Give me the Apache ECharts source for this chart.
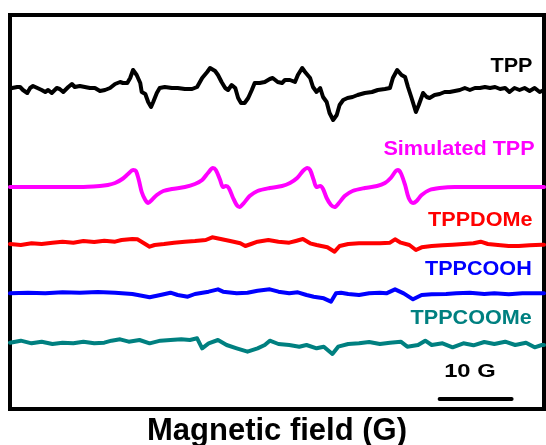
<!DOCTYPE html>
<html>
<head>
<meta charset="utf-8">
<script src="https://cdn.jsdelivr.net/npm/echarts@6/dist/echarts.min.js"></script>
<style>
  html, body { margin: 0; padding: 0; background: #fff; }
  #epr { width: 546px; height: 445px; }
</style>
</head>
<body>
<div id="epr"></div>
<script>
// field axis in G (relative), signal in arbitrary units (positive = up)
const tppField = [0,0.3,1.0,1.4,1.8,2.4,2.8,3.2,3.8,4.4,4.9,5.3,5.8,6.5,6.9,7.4,8.1,8.6,9.0,9.7,
  10.4,11.1,11.8,12.5,13.2,13.9,14.6,15.3,15.7,16.3,16.7,17.1,17.6,18.1,18.3,18.8,19.2,19.6,19.9,20.4,
  20.8,21.5,22.5,23.3,24.3,25.3,26.0,26.7,27.4,27.8,28.5,28.9,29.4,29.9,30.3,30.8,31.3,31.7,32.1,32.6,
  33.1,33.6,34.0,34.7,35.4,36.1,36.5,37.2,37.8,38.2,38.9,39.6,40.0,40.6,41.0,41.7,42.1,42.6,43.1,43.5,
  44.0,44.4,44.9,45.4,45.8,46.3,46.9,47.6,48.3,49.3,50.3,51.1,52.1,52.8,53.2,53.8,54.4,54.9,55.3,55.8,
  56.4,56.8,57.4,57.9,58.3,59.0,59.7,60.4,61.1,61.8,62.5,63.2,63.9,64.6,65.3,66.0,66.7,67.4,68.1,68.8,
  69.4,70.1,70.8,71.5,72.2,72.9,73.6,74.2];
const tppSignal = [0,0.25,0.5,0.5,-0.25,-1,0.25,0.75,0.25,-0.25,-0.75,-0.25,-1,0.25,0,-0.75,0.5,1.25,0.5,0.75,
  0.5,0.25,0.25,-0.5,-0.25,0.25,1.25,1.75,1.5,1.5,2.75,4.75,3.5,1.5,-0.75,-1.25,-3.25,-4.5,-3.25,-1,
  0.25,0.5,0.25,0.25,0,0,0.5,2.75,4.25,5.25,4.5,3.5,1.75,0.25,-0.25,1,0.25,-2.25,-3.5,-3.5,
  -2.25,-0.25,1.5,1.5,1.75,2.5,2.75,1.75,1.5,2.25,2.25,1.75,3.5,5.25,4.25,2.75,0.5,-0.75,0.25,-2,
  -3.25,-6,-7.75,-6.5,-4,-2.75,-2.25,-2,-1.5,-1,-0.75,-0.25,0,0.25,2.75,4.75,3.5,3,0.5,-2.25,
  -5.75,-4,-1,-2,-2.25,-1.5,-1.25,-0.75,-0.75,-0.5,-0.25,0.25,-0.25,0.25,0.25,0.5,0.25,0.5,0,0.25,
  -0.75,0.25,-0.25,0.25,-0.5,0.25,-0.75,-0.25];

const simField = [0,9.7,12.5,13.6,14.6,15.6,16.4,17.1,17.5,17.9,18.3,18.8,19.2,19.7,20.4,21.3,22.5,24.3,25.7,26.7,
  27.5,28.2,28.6,29.2,29.6,30.0,30.4,31.0,31.5,31.9,32.5,33.3,34.4,36.1,37.8,38.9,39.9,40.7,41.3,41.7,
  42.2,42.6,43.1,43.5,44.0,44.6,45.1,45.7,46.5,47.6,49.3,51.0,52.1,52.9,53.6,53.9,54.3,54.9,55.4,56.0,
  56.5,57.2,58.3,59.7,61.8,74.2];
const simSignal = [0,0,0.25,0.5,1,2,3.25,4.25,4,1.75,-1.25,-3.25,-4,-3.25,-2,-1,-0.5,0,0.75,1.75,
  3.5,4.75,4.25,1.75,0,0.25,-0.25,-2.75,-4.5,-5,-4,-2.25,-1,-0.25,0.25,1,2.25,4,4.75,4.25,
  1.75,0,0.25,-0.5,-2.75,-4.5,-5,-4,-2.25,-1,-0.25,0.25,1,2.25,4,4.25,3.5,0.5,-2.75,-4,
  -3.5,-2,-0.75,-0.25,0,0];

const domeField = [0,1.5,3.0,4.4,5.9,7.3,8.8,10.2,11.7,13.1,14.6,15.5,17.0,17.7,18.5,19.4,20.1,21.4,22.8,24.3,
  25.7,27.2,28.1,29.1,30.6,32.0,32.7,33.5,34.4,35.9,37.3,38.8,39.7,40.7,41.7,42.6,44.1,45.1,45.8,47.0,
  48.5,49.9,51.4,52.8,53.5,54.3,55.5,56.4,57.2,58.6,60.1,61.5,63.0,64.4,65.4,66.4,67.8,69.3,70.7,72.2,
  73.9,74.2];
const domeSignal = [0,-0.25,0.17,0,0.33,0.58,0.33,0.75,0.5,0.83,0.58,1,1.25,1.17,0.33,-0.67,-0.25,0,0.33,0.58,
  0.75,1,1.67,1.33,0.75,0.17,-0.5,0,0.58,1,0.58,0.33,0.75,1.25,0.17,-0.25,-0.83,-1.92,-0.5,0,
  0.17,0.17,0.17,0.33,1.17,0.33,-0.25,-1.5,-0.83,-0.5,-0.33,-0.17,0,0.17,0.58,0,-0.25,-0.5,-0.5,-0.33,
  -0.17,-0.17];

const coohField = [0,2.5,4.9,7.3,9.7,12.2,14.6,17.0,18.5,19.4,20.9,22.3,23.3,24.7,25.7,27.6,28.9,29.6,31.5,33.0,
  34.4,36.1,37.3,38.8,40.0,41.2,42.2,43.6,44.6,45.3,46.0,47.0,48.5,49.9,51.4,52.3,53.5,54.7,56.0,57.2,
  58.6,60.6,62.0,63.9,65.9,67.3,69.3,71.2,73.9,74.2];
const coohSignal = [-0.08,0.08,-0.08,0.17,0.08,0.25,0.08,-0.25,-0.75,-1.08,-0.5,0.08,-0.5,-0.92,-0.25,0.33,0.92,0.33,-0.08,0.08,
  0.58,0.92,0.33,-0.08,0.17,-0.5,-0.92,-1.33,-2.17,-0.08,0.08,-0.25,-0.5,-0.08,0.08,-0.08,0.92,-0.08,-1.58,-0.5,
  -0.33,-0.25,-0.08,0.08,-0.25,-0.08,-0.33,-0.08,-0.08,-0.08];

const coomeField = [0,1.5,3.0,4.4,5.9,7.3,8.8,10.2,11.7,13.1,14.1,15.3,16.5,18.0,19.4,20.9,22.3,23.8,25.0,26.0,
  26.7,27.6,28.9,30.1,31.5,33.0,34.4,35.4,36.1,37.3,38.8,40.2,41.2,42.6,43.6,44.8,45.6,47.0,48.5,49.9,
  51.4,52.8,54.3,55.2,56.7,57.7,58.6,60.1,61.5,63.0,64.4,65.9,67.3,68.8,70.2,71.7,72.9,73.9,74.2];
const coomeSignal = [0.08,0.58,-0.08,0.33,-0.25,0.08,-0.08,0.33,-0.08,0.08,0.58,0.92,0.33,0.75,-0.08,0.58,0.75,0.92,0.75,1.17,
  -1.33,-0.08,0.75,-0.5,-1.33,-2.17,-1.33,-0.5,0.58,-0.25,-0.5,-0.92,-0.5,-1.33,-0.92,-2.75,-0.92,-0.25,-0.08,0.25,
  -0.25,0.08,0.33,-0.92,-0.5,0.58,-0.5,-0.08,-1.08,-0.08,-0.58,0.25,-0.25,0.33,-0.5,0.08,-1.08,-0.5,-0.5];

const traceNames = ["TPP", "Simulated TPP", "TPPDOMe", "TPPCOOH", "TPPCOOMe"];
const traceOffsets = [80, 55.5, 41.25, 29, 16.5];
const scaleBarField = [59.7, 69.7];
const scaleBarText = "10 G";

// layout / style
const colors = ["#000000", "#ff00ff", "#ff0000", "#0000ff", "#008080"];
const labelLevels = [85.75, 64.9, 47.25, 35, 22.75];
const labelRight = [72.6, 72.9, 72.6, 72.5, 72.5];
const scaleBarLevel = 2.5;
const scaleTextAt = [63.9, 9.25];
const fontFamily = '"Liberation Sans", Arial, sans-serif';

const traces = [
  [tppField, tppSignal],
  [simField, simSignal],
  [domeField, domeSignal],
  [coohField, coohSignal],
  [coomeField, coomeSignal]
];

const chart = echarts.init(document.getElementById("epr"));

const series = traces.map(([field, signal], i) => ({
  type: "line",
  name: traceNames[i],
  data: field.map((x, j) => [x, traceOffsets[i] + signal[j]]),
  symbol: "none",
  smooth: i === 1 ? 0.3 : false,
  silent: true,
  lineStyle: { color: colors[i], width: 4, join: "round", cap: "round" }
}));

series.push({
  type: "line",
  name: "scale",
  data: scaleBarField.map(x => [x, scaleBarLevel]),
  symbol: "none",
  silent: true,
  lineStyle: { color: "#000", width: 4, cap: "round" }
});

const option = {
  animation: false,
  grid: {
    left: 10,
    right: 2,
    top: 15,
    bottom: 36,
    show: true,
    borderColor: "#000",
    borderWidth: 4,
    outerBoundsMode: "none"
  },
  xAxis: {
    type: "value",
    min: 0,
    max: 74.2,
    axisLine: { show: false },
    axisTick: { show: false },
    axisLabel: { show: false },
    splitLine: { show: false },
    name: "Magnetic field (G)",
    nameLocation: "middle",
    nameGap: 7,
    nameTextStyle: { color: "#000", fontSize: 31, fontWeight: "bold", fontFamily: fontFamily }
  },
  yAxis: {
    type: "value",
    min: 0,
    max: 98.5,
    show: false
  },
  series: series
};
chart.setOption(option);

// text annotations placed through the axes (the source font is drawn a bit wide)
const texts = traceNames.map((name, i) => {
  const p = chart.convertToPixel({ gridIndex: 0 }, [labelRight[i], labelLevels[i]]);
  return {
    type: "text",
    x: p[0],
    y: p[1],
    scaleX: 1.08,
    style: {
      text: name,
      fill: colors[i],
      font: "bold 20px " + fontFamily,
      align: "right",
      verticalAlign: "middle"
    }
  };
});
const sp = chart.convertToPixel({ gridIndex: 0 }, scaleTextAt);
texts.push({
  type: "text",
  x: sp[0],
  y: sp[1],
  scaleX: 1.25,
  style: {
    text: scaleBarText,
    fill: "#000",
    font: "bold 19px " + fontFamily,
    align: "center",
    verticalAlign: "middle"
  }
});
chart.setOption({ graphic: texts });
</script>
</body>
</html>
